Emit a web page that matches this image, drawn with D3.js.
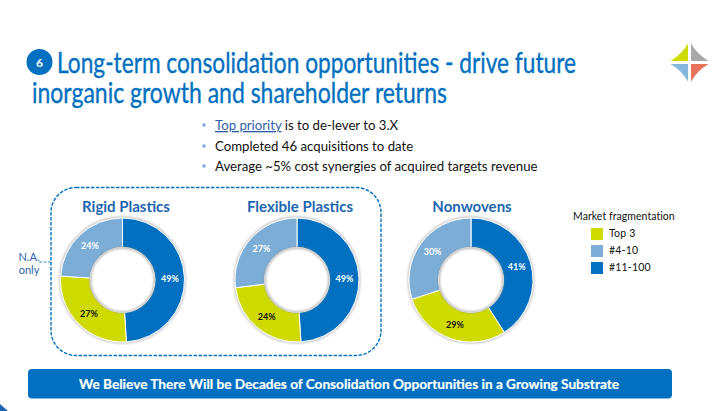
<!DOCTYPE html>
<html><head><meta charset="utf-8">
<script src="https://cdnjs.cloudflare.com/ajax/libs/d3/7.8.5/d3.min.js"></script>
<style>html,body{margin:0;padding:0;background:#fff}svg{display:block}text{font-family:Lato,"Open Sans",sans-serif}</style>
</head><body><svg id="c" width="721" height="411"></svg>
<script>
const categories=["#11-100","Top 3","#4-10"];
const legendOrder=["Top 3","#4-10","#11-100"];
const chartTitles=["Rigid Plastics","Flexible Plastics","Nonwovens"];
const rigidValues=[49,27,24];
const flexibleValues=[49,24,27];
const nonwovenValues=[41,29,30];
const seriesValues=[rigidValues,flexibleValues,nonwovenValues];
const bullets=[" is to de-lever to 3.X","Completed 46 acquisitions to date","Average ~5% cost synergies of acquired targets revenue"];
const BLUE="#0170c0",LIGHT="#7cadd6",LIME="#cfdb00";
const color=d3.scaleOrdinal().domain(categories).range([BLUE,LIME,LIGHT]);
const svg=d3.select("#c");
const defs=svg.append("defs");
const f=defs.append("filter").attr("id","blur").attr("x","-20%").attr("y","-20%").attr("width","140%").attr("height","140%");
f.append("feGaussianBlur").attr("stdDeviation",1);

// title
svg.append("circle").attr("cx",39.5).attr("cy",62).attr("r",13).attr("fill",BLUE);
svg.append("text").attr("x",39.5).attr("y",66.5).attr("text-anchor","middle").attr("font-size",12).attr("font-weight",700).attr("fill","#fff").text("6");
svg.append("text").attr("x",57).attr("y",73).attr("font-size",28.5).attr("fill",BLUE).attr("stroke",BLUE).attr("stroke-width",.35).attr("textLength",519).attr("lengthAdjust","spacingAndGlyphs").text("Long-term consolidation opportunities - drive future");
svg.append("text").attr("x",32).attr("y",103).attr("font-size",28.5).attr("fill",BLUE).attr("stroke",BLUE).attr("stroke-width",.35).attr("textLength",415).attr("lengthAdjust","spacingAndGlyphs").text("inorganic growth and shareholder returns");

// logo
const logo=svg.append("g").attr("transform","translate(689.5,62.5)");
[[-1,-1,LIME],[1,-1,"#a9a9ab"],[-1,1,"#86b7dc"],[1,1,"#e9735a"]].forEach(([sx,sy,c])=>{
  logo.append("path").attr("fill",c).attr("d",`M${sx*1.5},${sy*19}L${sx*1.5},${sy*1.5}L${sx*19},${sy*1.5}Q${sx*8},${sy*8} ${sx*1.5},${sy*19}Z`);
});

// bullets
const by=[130,151,171];
by.forEach(y=>svg.append("circle").attr("cx",204).attr("cy",y-5).attr("r",1.8).attr("fill","#7cadd6"));
const t0=svg.append("text").attr("x",215).attr("y",by[0]).attr("font-size",13.2).attr("fill","#111");
t0.append("tspan").attr("fill","#2f5fa8").attr("text-decoration","underline").text("Top priority");
t0.append("tspan").text(bullets[0]);
svg.append("text").attr("x",215).attr("y",by[1]).attr("font-size",13.2).attr("fill","#111").text(bullets[1]);
svg.append("text").attr("x",215).attr("y",by[2]).attr("font-size",13.2).attr("fill","#111").text(bullets[2]);

// dashed group
svg.append("rect").attr("x",51).attr("y",187.5).attr("width",330).attr("height",168).attr("rx",25).attr("fill","none").attr("stroke",BLUE).attr("stroke-width",1.4).attr("stroke-dasharray","3.5 1.5");
svg.append("line").attr("x1",39).attr("x2",51).attr("y1",262).attr("y2",262).attr("stroke",BLUE).attr("stroke-width",.8).attr("stroke-dasharray","3 1.5");
svg.append("text").attr("x",29).attr("y",261).attr("text-anchor","middle").attr("font-size",11).attr("fill","#2f5fa8").text("N.A.");
svg.append("text").attr("x",29).attr("y",273.5).attr("text-anchor","middle").attr("font-size",11).attr("fill","#2f5fa8").text("only");

// donuts
const centers=[122.5,297,471];
const cy=280,R=62,r=32.5;
const pie=d3.pie().sort(null).value(d=>d.v);
const arc=d3.arc().innerRadius(r).outerRadius(R);
const labelArc=d3.arc().innerRadius(47.5).outerRadius(47.5);
seriesValues.forEach((vals,i)=>{
  const g=svg.append("g").attr("transform",`translate(${centers[i]},${cy})`);
  svg.append("text").attr("x",centers[i]+(i==0?3.5:i==1?3:1)).attr("y",212).attr("text-anchor","middle").attr("font-size",15).attr("font-weight",700).attr("fill","#1c66b0").text(chartTitles[i]);
  g.append("circle").attr("r",R+.6).attr("fill","none").attr("stroke","#a0a0a0").attr("stroke-width",1.1).attr("filter","url(#blur)");
  const data=pie(vals.map((v,j)=>({v,c:categories[j]})));
  g.selectAll("path").data(data).join("path").attr("d",arc).attr("fill",d=>color(d.data.c)).attr("stroke","#fff").attr("stroke-width",1);
  g.append("circle").attr("r",r+.2).attr("fill","#fff");
  g.append("circle").attr("r",r-.4).attr("fill","none").attr("stroke","#888").attr("stroke-width",1.2).attr("filter","url(#blur)");
  g.selectAll("text").data(data).join("text").attr("transform",d=>`translate(${labelArc.centroid(d)})`).attr("dy","0.35em").attr("text-anchor","middle").attr("font-size",9).attr("font-weight",700).attr("fill",d=>d.data.c==="Top 3"?"#111":"#fff").text(d=>d.data.v+"%");
});

// legend
svg.append("text").attr("x",573).attr("y",220).attr("font-size",10.5).attr("fill","#111").attr("letter-spacing",0.05).text("Market fragmentation");
const ly=d3.scalePoint().domain(legendOrder).range([234,268]);
legendOrder.forEach(k=>{
  svg.append("rect").attr("x",591).attr("y",ly(k)-6).attr("width",12).attr("height",12).attr("fill",color(k));
  svg.append("text").attr("x",609).attr("y",ly(k)+3).attr("font-size",10.5).attr("fill","#111").attr("letter-spacing",0.2).text(k);
});

// banner
svg.append("rect").attr("x",28).attr("y",369).attr("width",644).attr("height",29.5).attr("rx",4).attr("fill",BLUE);
svg.append("text").attr("x",349).attr("y",389).attr("text-anchor","middle").attr("font-size",13.5).attr("font-weight",700).attr("fill","#fff").attr("stroke","#fff").attr("stroke-width",.2).attr("textLength",540).attr("lengthAdjust","spacingAndGlyphs").text("We Believe There Will be Decades of Consolidation Opportunities in a Growing Substrate");
// corner accent
svg.append("path").attr("d","M0,404L8,411L0,411Z").attr("fill","#1c66b0");
</script></body></html>
